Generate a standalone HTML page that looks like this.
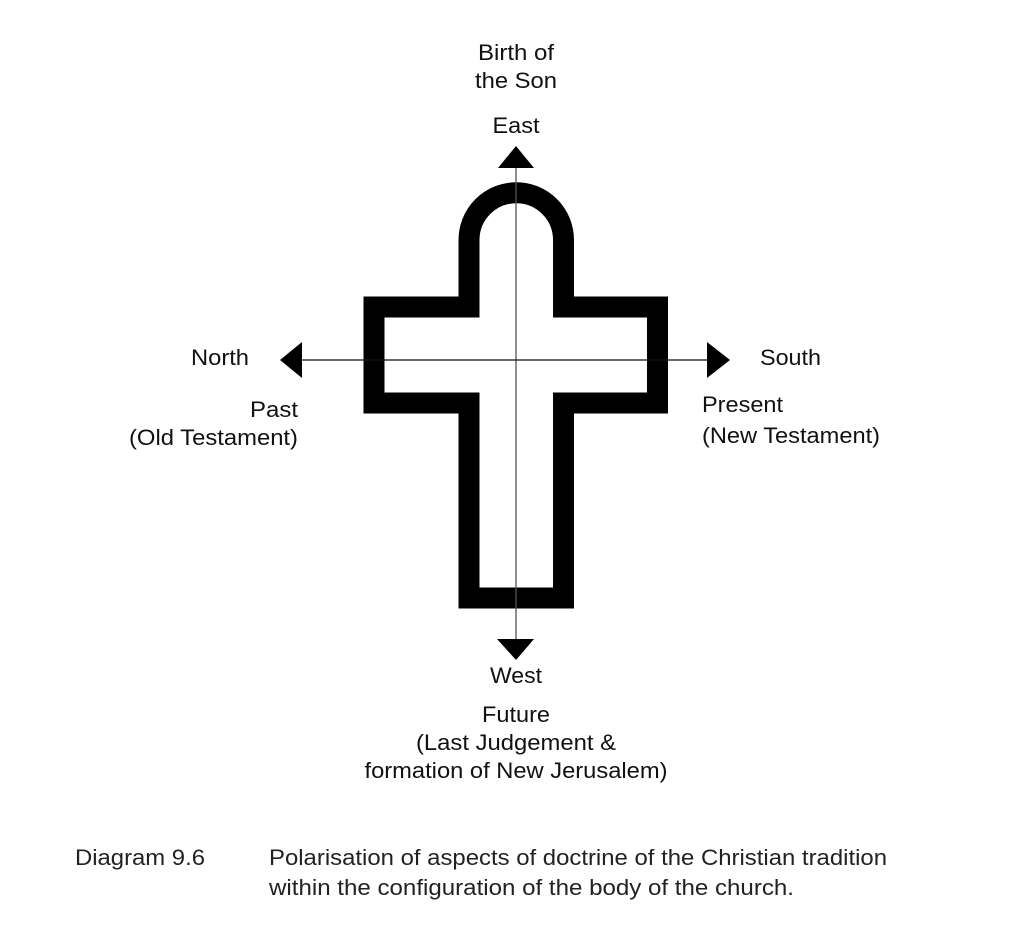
<!DOCTYPE html>
<html><head><meta charset="utf-8"><style>
html,body{margin:0;padding:0;background:#fff;}
svg{display:block;}
text{font-family:"Liberation Sans",Arial,sans-serif;font-size:22px;fill:#111;}
.c{font-size:22px;fill:#222;}
</style></head><body>
<svg width="1024" height="951" viewBox="0 0 1024 951" xmlns="http://www.w3.org/2000/svg">
<rect width="1024" height="951" fill="#fff"/>
<!-- cross -->
<path d="M469,240 A47,47 0 0 1 563.5,240 L563.5,307 L657.5,307 L657.5,403 L563.5,403 L563.5,598 L469,598 L469,403 L374,403 L374,307 L469,307 Z" fill="none" stroke="#000" stroke-width="21" stroke-linejoin="miter"/>
<line x1="516" y1="165" x2="516" y2="640" stroke="#555" stroke-width="1.3"/>
<line x1="300" y1="360" x2="710" y2="360" stroke="#111" stroke-width="1.3"/>
<!-- arrows -->
<polygon points="516,146 498,168 534,168" fill="#000"/>
<polygon points="516,660 497,639 534,639" fill="#000"/>
<polygon points="280,360 302,342 302,378" fill="#000"/>
<polygon points="730,360 707,342 707,378" fill="#000"/>
<!-- labels -->
<text x="516" y="60" text-anchor="middle" textLength="76" lengthAdjust="spacingAndGlyphs">Birth of</text>
<text x="516" y="88" text-anchor="middle" textLength="82" lengthAdjust="spacingAndGlyphs">the Son</text>
<text x="516" y="133" text-anchor="middle" textLength="47" lengthAdjust="spacingAndGlyphs">East</text>
<text x="191" y="365" textLength="58" lengthAdjust="spacingAndGlyphs">North</text>
<text x="760" y="365" textLength="61" lengthAdjust="spacingAndGlyphs">South</text>
<text x="298" y="417" text-anchor="end" textLength="48" lengthAdjust="spacingAndGlyphs">Past</text>
<text x="298" y="445" text-anchor="end" textLength="169" lengthAdjust="spacingAndGlyphs">(Old Testament)</text>
<text x="702" y="412" textLength="81" lengthAdjust="spacingAndGlyphs">Present</text>
<text x="702" y="443" textLength="178" lengthAdjust="spacingAndGlyphs">(New Testament)</text>
<text x="516" y="683" text-anchor="middle" textLength="52" lengthAdjust="spacingAndGlyphs">West</text>
<text x="516" y="722" text-anchor="middle" textLength="68" lengthAdjust="spacingAndGlyphs">Future</text>
<text x="516" y="750" text-anchor="middle" textLength="200" lengthAdjust="spacingAndGlyphs">(Last Judgement &amp;</text>
<text x="516" y="778" text-anchor="middle" textLength="303" lengthAdjust="spacingAndGlyphs">formation of New Jerusalem)</text>
<!-- caption -->
<text class="c" x="75" y="865" textLength="130" lengthAdjust="spacingAndGlyphs">Diagram 9.6</text>
<text class="c" x="269" y="865" textLength="618" lengthAdjust="spacingAndGlyphs">Polarisation of aspects of doctrine of the Christian tradition</text>
<text class="c" x="269" y="895" textLength="525" lengthAdjust="spacingAndGlyphs">within the configuration of the body of the church.</text>
</svg>
</body></html>
